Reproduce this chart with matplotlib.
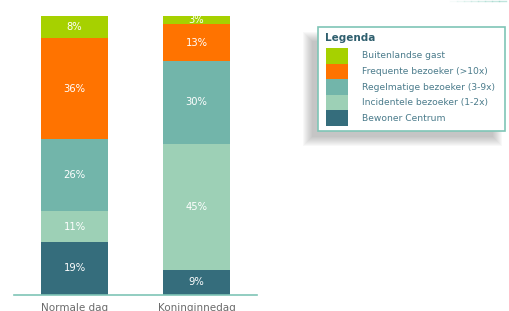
import matplotlib.pyplot as plt
from matplotlib.patches import Rectangle

# Data
categories = ['Normale dag', 'Koninginnedag']
series = ['Bewoner Centrum', 'Incidentele bezoeker (1-2x)', 'Regelmatige bezoeker (3-9x)',
          'Frequente bezoeker (>10x)', 'Buitenlandse gast']
bewoner = [19, 9]
incidenteel = [11, 45]
regelmatig = [26, 30]
frequent = [36, 13]
buitenlands = [8, 3]
values = [bewoner, incidenteel, regelmatig, frequent, buitenlands]
colors = ['#356d7c', '#9dd0b6', '#72b5aa', '#ff7300', '#a6d100']

W, H = 509, 311
fig = plt.figure(figsize=(W / 100, H / 100), dpi=100)
ax = fig.add_axes([14 / W, 1 - 295 / H, (257 - 14) / W, (295 - 16) / H])


def px(x, y):
    return x / W, 1 - y / H


# Stacked bars
x = range(len(categories))
bottom = [0, 0]
for vals, col in zip(values, colors):
    ax.bar(x, vals, width=0.55, bottom=bottom, color=col, linewidth=0)
    for i, v in enumerate(vals):
        ax.text(i, bottom[i] + v / 2, f'{v}%', ha='center', va='center',
                color='white', fontsize=7.2)
    bottom = [b + v for b, v in zip(bottom, vals)]

ax.set_xlim(-0.496, 1.496)
ax.set_ylim(0, 100)
ax.set_yticks([])
ax.set_xticks(list(x))
ax.set_xticklabels(categories, fontsize=7.5, color='#6b6b6b')
ax.tick_params(axis='x', length=0, pad=6)
for s in ['top', 'left', 'right']:
    ax.spines[s].set_visible(False)
ax.spines['bottom'].set_color('#7fc5b6')
ax.spines['bottom'].set_linewidth(1.2)

# Legend shadow (soft, offset down-left)
for k in range(10):
    x0, y0 = px(312 - k, 137 + k)
    x1, y1 = px(493 + k, 41 - k)
    fig.patches.append(Rectangle((x0, y0), x1 - x0, y1 - y0, transform=fig.transFigure,
                                 facecolor='#666666', alpha=0.045, linewidth=0, zorder=1))

# Legend box
x0, y0 = px(318, 131)
x1, y1 = px(505, 27)
fig.patches.append(Rectangle((x0, y0), x1 - x0, y1 - y0, transform=fig.transFigure,
                             facecolor='white', edgecolor='#7fc5b6', linewidth=1.2, zorder=2))
fig.text(*px(325, 38), 'Legenda', fontsize=7.5, fontweight='bold', color='#2f5f6e',
         va='center', ha='left', zorder=3)
band = 15.6
for j, (name, col) in enumerate(zip(series[::-1], colors[::-1])):
    top = 48 + j * band
    bx0, by0 = px(326, top + band)
    bx1, by1 = px(348, top)
    fig.patches.append(Rectangle((bx0, by0), bx1 - bx0, by1 - by0, transform=fig.transFigure,
                                 facecolor=col, linewidth=0, zorder=3))
    fig.text(*px(362, top + band / 2), name, fontsize=6.6, color='#4a7b8b',
             va='center', ha='left', zorder=3)

# faint decorative line top right, fading in towards the right
for k in range(8):
    xs = [(450 + k * 7) / W, (457 + k * 7) / W]
    fig.add_artist(plt.Line2D(xs, [1 - 0.5 / H] * 2, transform=fig.transFigure,
                              color='#8fd0c2', linewidth=1.0, alpha=0.08 + 0.07 * k))

fig.savefig('out.png', dpi=100)
